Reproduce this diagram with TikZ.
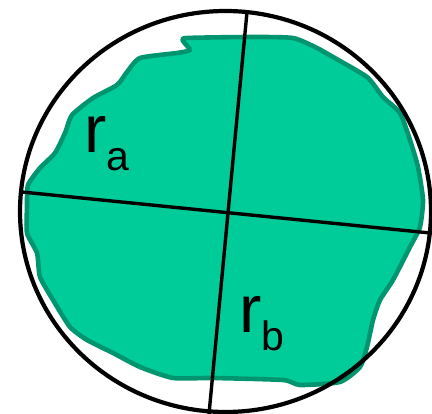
\documentclass[tikz,border=0pt]{standalone}
\usepackage{fontspec}
\setmainfont{Liberation Sans}
\definecolor{blobfill}{HTML}{00CC99}
\definecolor{blobline}{HTML}{00956E}
\begin{document}
\begin{tikzpicture}[x=1pt,y=-1pt,
  blob/.style={fill=blobfill,draw=blobline,line width=4.6pt,line join=round},
  axisline/.style={draw=black,line width=3.4pt},
  rim/.style={draw=black,line width=4.2pt},
  lbl/.style={anchor=base west,inner sep=0pt,font=\fontsize{67}{67}\selectfont}]
\useasboundingbox (0,0) rectangle (432,414);
\clip (0,0) rectangle (432,414);
\path[blob] plot[smooth cycle,tension=0.35] coordinates {
 (183,41) (190,50) (177,53) (140,58) (127,72) (117,85) (93,98) (72,115)
 (65,133) (55,153) (40,168) (28,185) (27,207) (27,233) (37,253) (40,277)
 (53,300) (70,327) (87,340) (113,353) (140,367) (173,378) (213,378)
 (283,380) (300,385) (340,382) (360,367) (367,347) (373,320) (380,300)
 (393,280) (410,247) (420,227) (423,200) (418,167) (410,140) (400,113)
 (383,97) (367,77) (333,57) (317,48) (293,38) (250,37) (187,38)};
\coordinate (L) at (22,192);
\coordinate (R) at (440,234);
\coordinate (T) at (247,12);
\coordinate (B) at (209,414);
\draw[axisline] (L) -- (R);
\draw[axisline] (T) -- (B);
\draw[rim] (225.5,211.5) ellipse [x radius=205.5, y radius=200.5];
\node[lbl] (ra) at (84,153) {r\raisebox{-0.26em}{\fontsize{41}{41}\selectfont a}};
\node[lbl] (rb) at (239,333) {r\raisebox{-0.26em}{\fontsize{41}{41}\selectfont b}};
\end{tikzpicture}
\end{document}
